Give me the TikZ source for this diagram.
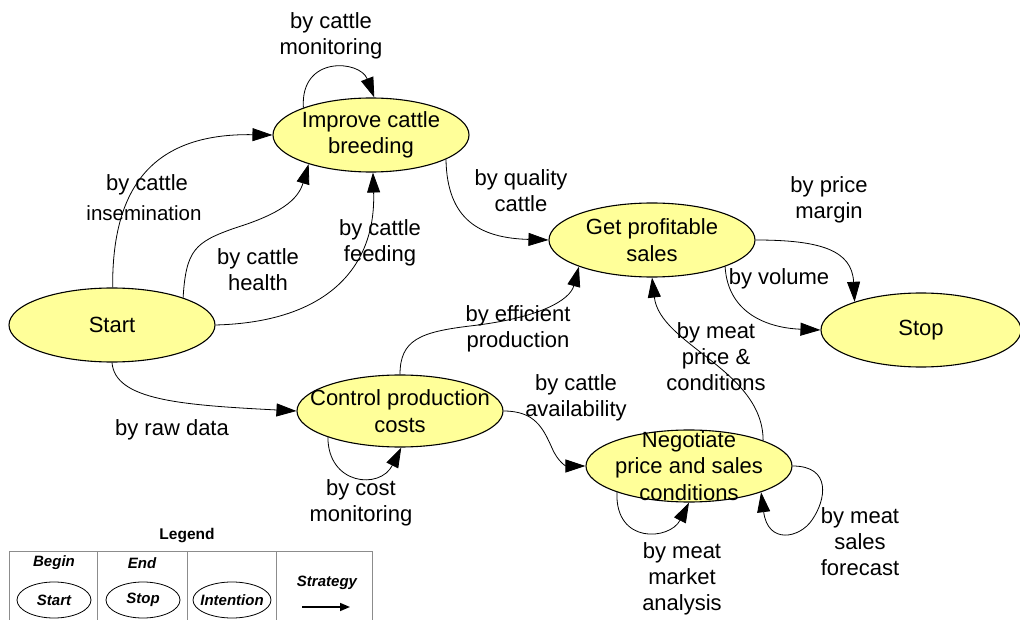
\documentclass[tikz,border=0pt]{standalone}
\usepackage{fontspec}
\setmainfont{Liberation Sans}
\usetikzlibrary{shapes.geometric,arrows.meta}
\definecolor{nodefill}{RGB}{255,255,153}
\definecolor{gridgray}{RGB}{140,140,140}
\begin{document}
\begin{tikzpicture}[x=1pt,y=-1pt,
  state/.style={ellipse,draw=black,line width=1.1pt,fill=nodefill,inner sep=0pt,
    minimum width=206pt,minimum height=74pt},
  intext/.style={align=center,font=\fontsize{22}{26.5}\selectfont,inner sep=0pt},
  lbl/.style={align=center,font=\fontsize{22}{26}\selectfont,inner sep=0pt},
  conn/.style={line width=0.8pt,-{Triangle[length=20pt,width=13pt]}},
  legtext/.style={font=\bfseries\itshape\fontsize{15}{18}\selectfont,inner sep=0pt},
  legell/.style={ellipse,draw=black,line width=0.8pt,fill=white,inner sep=0pt,
    minimum width=74pt,minimum height=36pt},
  ]
\useasboundingbox (0,0) rectangle (1020,620);

% states
\node[state,label={[intext]center:Start}] (start) at (112,325) {};
\node[state,minimum width=196pt,label={[intext]center:Improve cattle\\breeding}] (improve) at (371,135) {};
\node[state,label={[intext]center:Get profitable\\sales}] (gps) at (652,240) {};
\node[state,minimum width=200pt,label={[intext]center:Stop}] (stop) at (921,330) {};
\node[state,minimum height=72pt,label={[intext]center:Control production\\costs}] (control) at (400,411) {};
\node[state,minimum height=72pt,label={[intext]center:Negotiate\\price and sales\\conditions}] (neg) at (689,466) {};

% connectors
\draw[conn] (start.89) .. controls (112,190) and (150,133) .. (improve.west);
\draw[conn] (start.21) .. controls (186,250) and (195,242) .. (235,228)
  .. controls (280,214) and (298,200) .. (improve.205);
\draw[conn] (start.east) .. controls (330,322) and (376,265) .. (improve.-87);
\draw[conn] (improve.158) .. controls (300,55) and (360,60) .. (improve.85);
\draw[conn] (improve.-18) .. controls (447,220) and (480,238) .. (gps.west);
\draw[conn] (control.north) .. controls (400,340) and (420,332) .. (470,326)
  .. controls (540,318) and (570,300) .. (gps.200);
\draw[conn] (start.south) .. controls (115,400) and (180,405) .. (control.west);
\draw[conn] (control.200) .. controls (328,485) and (380,490) .. (control.-88);
\draw[conn] (control.east) .. controls (535,411) and (543,428) .. (552,448)
  .. controls (558,462) and (566,466) .. (neg.west);
\draw[conn] (neg.19) .. controls (763,370) and (660,345) .. (gps.south);
\draw[conn] (gps.east) .. controls (820,240) and (852,250) .. (stop.157);
\draw[conn] (gps.-20) .. controls (728,315) and (770,328) .. (stop.west);
\draw[conn] (neg.200) .. controls (615,545) and (670,540) .. (neg.south);
\draw[conn] (neg.east) .. controls (832,466) and (826,500) .. (812,520)
  .. controls (800,538) and (768,545) .. (neg.-20);

% labels
\node[lbl] (l1) at (331,35.5) {by cattle\\monitoring};
\node[lbl] (l2a) at (147,185) {by cattle};
\node[lbl,font=\fontsize{20.5}{24}\selectfont] (l2b) at (144,213) {insemination};
\node[lbl] (l3) at (258,269.5) {by cattle\\health};
\node[lbl] (l4) at (380,243) {by cattle\\feeding};
\node[lbl] (l5) at (521,190.5) {by quality\\cattle};
\node[lbl] (l6) at (518,328.5) {by efficient\\production};
\node[lbl] (l7) at (172,430) {by raw data};
\node[lbl] (l8) at (361,502.5) {by cost\\monitoring};
\node[lbl] (l9) at (576,398) {by cattle\\availability};
\node[lbl] (l10) at (716,356.5) {by meat\\price \&\\conditions};
\node[lbl] (l11) at (829,200) {by price\\margin};
\node[lbl] (l12) at (779,279) {by volume};
\node[lbl] (l13) at (682,579) {by meat\\market\\analysis};
\node[lbl] (l14) at (860,541.5) {by meat\\sales\\forecast};

% legend
\node[font=\bfseries\fontsize{15.5}{18}\selectfont,inner sep=0pt] (legend) at (187,536) {Legend};
\draw[gridgray,line width=0.7pt] (9,620) -- (9,551) -- (372,551) -- (372,620);
\draw[gridgray,line width=0.7pt] (97,551) -- (97,620);
\draw[gridgray,line width=0.7pt] (187,551) -- (187,620);
\draw[gridgray,line width=0.7pt] (276,551) -- (276,620);
\node[legtext] (lbegin) at (54,563) {Begin};
\node[legtext] (lend) at (142,563) {End};
\node[legell,label={[legtext]center:Start}] (lstart) at (54,600) {};
\node[legell,label={[legtext]center:Stop}] (lstop) at (143,600) {};
\node[legell,minimum width=78pt,label={[legtext]center:Intention}] (lint) at (232,600) {};
\node[legtext] (lstrat) at (327,583) {Strategy};
\coordinate (la) at (302,607);
\coordinate (lb) at (350,607);
\draw[line width=1.6pt,-{Triangle[length=10pt,width=8pt]}] (la) -- (lb);
\end{tikzpicture}
\end{document}
